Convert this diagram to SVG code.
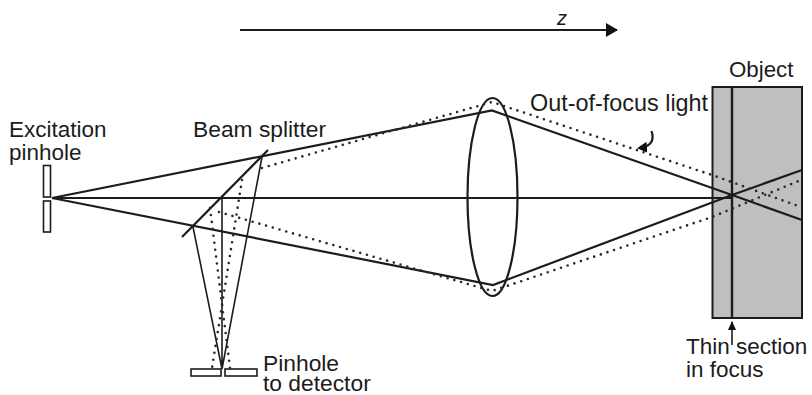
<svg xmlns="http://www.w3.org/2000/svg" width="812" height="395" viewBox="0 0 812 395">
<style>
text{font-family:"Liberation Sans",Arial,sans-serif;font-size:22.8px;fill:#1c1c1c}
.s{fill:none;stroke:#1c1c1c;stroke-width:2.200}
.t{fill:none;stroke:#1c1c1c;stroke-width:1.600}
.d{fill:none;stroke:#2a2a2a;stroke-width:2.600;stroke-linecap:round;stroke-dasharray:0 7}
.r{fill:#fff;stroke:#1c1c1c;stroke-width:1.600}
</style>
<defs><marker id="a" markerWidth="12" markerHeight="14" refX="11" refY="7" orient="auto" markerUnits="userSpaceOnUse"><path d="M0 0L12 7L0 14Z" fill="#111"/></marker>
<marker id="b" markerWidth="9" markerHeight="8" refX="8" refY="4" orient="auto" markerUnits="userSpaceOnUse"><path d="M0 0L9 4L0 8Z" fill="#111"/></marker>
<marker id="c" markerWidth="10" markerHeight="11" refX="8" refY="5.500" orient="auto" markerUnits="userSpaceOnUse"><path d="M0 0L10 5.500L0 11Z" fill="#111"/></marker></defs>
<rect width="812" height="395" fill="#fff"/>
<g id="object"><rect x="712.500" y="87" width="89.500" height="231" fill="#bfbfbf" stroke="#1c1c1c" stroke-width="2"/><path d="M732 87V318" fill="none" stroke="#1c1c1c" stroke-width="2.400"/><text x="729" y="77" style="font-size:22.3px">Object</text></g>
<g id="excitation-pinhole"><rect class="r" x="43.500" y="165.500" width="7" height="31.500"/><rect class="r" x="43.500" y="201" width="7" height="31"/><text x="9" y="137" style="font-size:22.500px">Excitation</text><text x="9" y="160" style="font-size:22.500px">pinhole</text></g>
<g id="detector-pinhole"><rect class="r" x="191" y="369" width="30" height="7"/><rect class="r" x="225" y="369" width="32" height="7"/><text x="263" y="371">Pinhole</text><text x="263" y="391">to detector</text></g>
<g id="lens"><ellipse class="s" cx="492.500" cy="197" rx="25" ry="99"/></g>
<g id="beam-splitter"><path class="s" d="M268 150L182 237"/><text x="193" y="137">Beam splitter</text></g>
<g id="connectors">
<path class="s" d="M52 198L492 110.500L732 195L802 220"/>
<path class="s" d="M52 198L493 285L732 195L802 170"/>
<path class="s" d="M52 198H732"/>
<path class="t" d="M262 157L222 369M193 227L222 369M222 198V369"/>
<path class="d" d="M262 168L492 102L712 175L801 207"/>
<path class="d" d="M219 212L492 291L712 217L801 180"/>
<path class="d" d="M242 180L212 368M210 208L230 368"/>
<path class="s" d="M240 30H617" marker-end="url(#a)"/>
<path class="s" d="M651.500 131C655 141 650 147 639 148" marker-end="url(#c)"/>
<path class="t" d="M732 345V322" marker-end="url(#b)"/>
</g>
<g id="labels"><text x="557" y="25" style="font-style:italic;font-size:20px">z</text><text x="530" y="111" style="font-size:23.400px">Out-of-focus light</text><text x="686" y="354" style="font-size:22.500px">Thin section</text><text x="686" y="377" style="font-size:22.500px">in focus</text></g>
</svg>
